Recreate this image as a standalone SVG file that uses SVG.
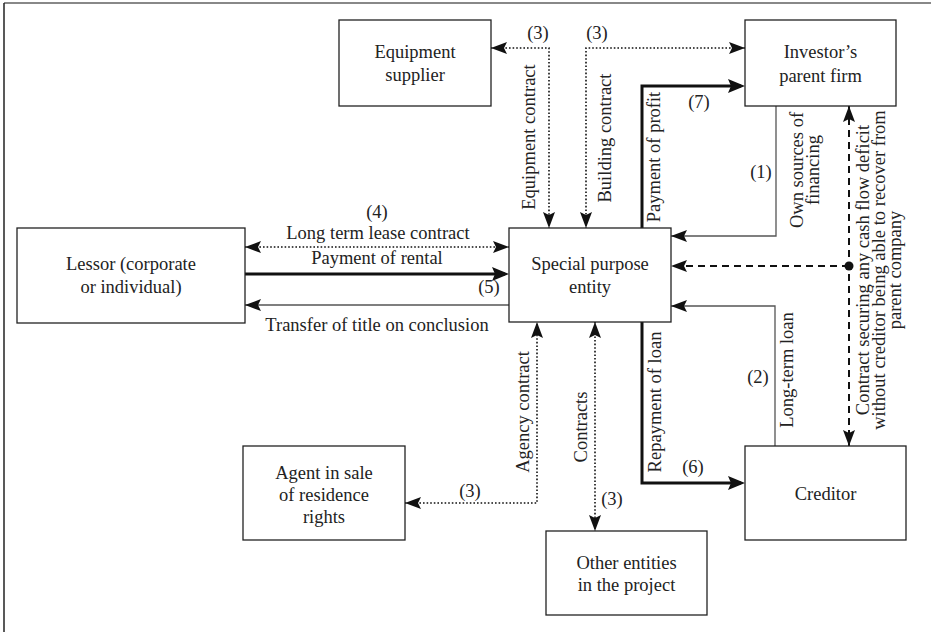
<svg xmlns="http://www.w3.org/2000/svg" width="931" height="632" viewBox="0 0 931 632">
<style>
.box{fill:#fff;stroke:#222;stroke-width:1.3}
.t{font-family:"Liberation Serif","Times New Roman",serif;font-size:18.5px;fill:#222;text-anchor:middle}
.thin{stroke:#555;stroke-width:1.3;fill:none}
.thick{stroke:#111;stroke-width:3;fill:none}
.dot{stroke:#111;stroke-width:1.6;stroke-dasharray:1.6 2;fill:none}
.dash{stroke:#111;stroke-width:2;stroke-dasharray:7 5;fill:none}
</style>
<defs>
<marker id="a" markerUnits="userSpaceOnUse" markerWidth="17" markerHeight="12" refX="16" refY="6" orient="auto-start-reverse"><path d="M0,0 L16,6 L0,12 L3,6 z" fill="#111"/></marker>
<marker id="aT" markerUnits="userSpaceOnUse" markerWidth="18" markerHeight="14" refX="13" refY="7" orient="auto-start-reverse"><path d="M0,0 L17,7 L0,14 L3,7 z" fill="#111"/></marker>
</defs>
<rect width="931" height="632" fill="#fff"/>
<line x1="4" y1="3" x2="931" y2="3" stroke="#888" stroke-width="2"/>
<line x1="4" y1="3" x2="4" y2="632" stroke="#222" stroke-width="1.5"/>

<g id="connectors">
<path class="dot" d="M491,48 L549,48 L549,228" marker-start="url(#a)" marker-end="url(#a)"/>
<path class="dot" d="M745,48 L586,48 L586,228" marker-start="url(#a)" marker-end="url(#a)"/>
<path class="thick" d="M642,228 L642,86 L741,86" marker-end="url(#aT)"/>
<path class="thin" d="M776,106 L776,236 L671,236" marker-end="url(#a)"/>
<path class="thin" d="M775,446 L775,306 L671,306" marker-end="url(#a)"/>
<path class="dash" d="M849,106 L849,446" marker-start="url(#a)" marker-end="url(#a)"/>
<path class="dash" d="M849,266 L671,266" marker-end="url(#a)"/>
<circle cx="849" cy="266" r="4.5" fill="#111"/>
<path class="dot" d="M245,247 L509,247" marker-start="url(#a)" marker-end="url(#a)"/>
<path class="thick" d="M245,274 L505,274" marker-end="url(#aT)"/>
<path class="thin" d="M509,305 L245,305" marker-end="url(#a)"/>
<path class="dot" d="M405,503 L537,503 L537,322" marker-start="url(#a)" marker-end="url(#a)"/>
<path class="dot" d="M595,322 L595,531" marker-start="url(#a)" marker-end="url(#a)"/>
<path class="thick" d="M642,322 L642,483 L741,483" marker-end="url(#aT)"/>

<text class="t" x="538" y="39">(3)</text>
<text class="t" x="597" y="39">(3)</text>
<text class="t" transform="translate(535,137) rotate(-90)">Equipment contract</text>
<text class="t" transform="translate(611,138) rotate(-90)">Building contract</text>
<text class="t" transform="translate(660,157) rotate(-90)">Payment of profit</text>
<text class="t" x="699" y="108">(7)</text>
<text class="t" x="761" y="178">(1)</text>
<text class="t" transform="translate(803,170) rotate(-90)"><tspan x="0" y="0">Own sources of</tspan><tspan x="0" y="16">financing</tspan></text>
<text class="t" transform="translate(869,270) rotate(-90)"><tspan x="0" y="0">Contract securing any cash flow deficit</tspan><tspan x="0" y="16">without creditor being able to recover from</tspan><tspan x="0" y="32">parent company</tspan></text>
<text class="t" transform="translate(793,370) rotate(-90)">Long-term loan</text>
<text class="t" x="758" y="383">(2)</text>
<text class="t" x="377" y="218">(4)</text>
<text class="t" x="378" y="239">Long term lease contract</text>
<text class="t" x="377" y="264">Payment of rental</text>
<text class="t" x="489" y="293">(5)</text>
<text class="t" x="377" y="331">Transfer of title on conclusion</text>
<text class="t" transform="translate(529,412) rotate(-90)">Agency contract</text>
<text class="t" x="470" y="497">(3)</text>
<text class="t" transform="translate(587,427) rotate(-90)">Contracts</text>
<text class="t" x="612" y="505">(3)</text>
<text class="t" transform="translate(661,402) rotate(-90)">Repayment of loan</text>
<text class="t" x="693" y="473">(6)</text>
</g>

<g id="equipment-supplier">
<rect class="box" x="339" y="20" width="152" height="86"/>
<text class="t" x="415" y="58">Equipment</text>
<text class="t" x="415" y="81">supplier</text>
</g>
<g id="investor-parent-firm">
<rect class="box" x="745" y="20" width="151" height="86"/>
<text class="t" x="820.5" y="58">Investor’s</text>
<text class="t" x="820.5" y="82">parent firm</text>
</g>
<g id="lessor">
<rect class="box" x="17" y="228" width="228" height="95"/>
<text class="t" x="131" y="270">Lessor (corporate</text>
<text class="t" x="131" y="293">or individual)</text>
</g>
<g id="special-purpose-entity">
<rect class="box" x="509" y="228" width="162" height="94"/>
<text class="t" x="590" y="270">Special purpose</text>
<text class="t" x="590" y="293">entity</text>
</g>
<g id="agent">
<rect class="box" x="243" y="446" width="162" height="94"/>
<text class="t" x="324" y="479">Agent in sale</text>
<text class="t" x="324" y="501">of residence</text>
<text class="t" x="324" y="523">rights</text>
</g>
<g id="other-entities">
<rect class="box" x="546" y="531" width="161" height="84"/>
<text class="t" x="626.5" y="569">Other entities</text>
<text class="t" x="626.5" y="591">in the project</text>
</g>
<g id="creditor">
<rect class="box" x="745" y="446" width="161" height="94"/>
<text class="t" x="825.5" y="500">Creditor</text>
</g>
</svg>
